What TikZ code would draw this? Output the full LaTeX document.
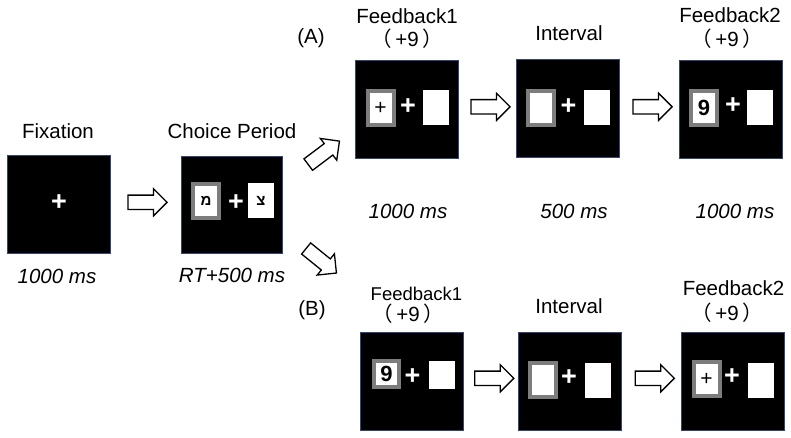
\documentclass[tikz,border=0pt]{standalone}
\usepackage{fontspec}
\setmainfont{Liberation Sans}
\newfontfamily\hebfont[Script=Hebrew]{Liberation Sans}
\newfontfamily\cjk{Noto Sans CJK SC}
\usetikzlibrary{shapes.arrows,calc}
\TeXXeTstate=1
\definecolor{scrborder}{RGB}{50,70,120}
\definecolor{boxgray}{RGB}{125,125,125}
\tikzset{
  screen/.style={draw=scrborder, line width=0.8pt, fill=black, minimum width=103pt, minimum height=98pt, inner sep=0pt, outer sep=0pt},
  graybox/.style={draw=boxgray, line width=4pt, fill=white, minimum width=26pt, minimum height=34pt, inner sep=0pt},
  whitebox/.style={fill=white, minimum width=26pt, minimum height=35pt, inner sep=0pt},
  bigplus/.style={text=white, font=\fontsize{27}{27}\selectfont\bfseries, inner sep=0pt},
  smallplus/.style={text=black, font=\fontsize{21}{21}\selectfont, inner sep=0pt},
  nine/.style={text=black, font=\fontsize{22}{22}\selectfont\bfseries, inner sep=0pt},
  heb/.style={text=black, font=\fontsize{15}{15}\selectfont\bfseries\hebfont, inner sep=0pt},
  lbl/.style={font=\fontsize{20.5}{24}\selectfont, anchor=base, inner sep=0pt},
  timing/.style={font=\fontsize{20.5}{24}\selectfont\itshape, anchor=base, inner sep=0pt},
  blockarrow/.style={single arrow, draw=black, fill=white, line width=1.3pt, minimum height=39pt, inner sep=6.5pt, single arrow head extend=6.5pt}
}
\newcommand{\plusnine}{{\cjk （}\,+9\,{\cjk ）}}
\begin{document}
\begin{tikzpicture}[x=1pt,y=-1pt]
\useasboundingbox[fill=white] (0,0) rectangle (791,437);

% screens
\node[screen] (fix) at (58.5,204) {};
\node[screen, minimum width=101pt, minimum height=97pt] (choice) at (231.5,204.5) {};
\node[screen] (a1) at (406.5,109) {};
\node[screen] (a2) at (567.5,108.5) {};
\node[screen] (a3) at (730.5,109) {};
\node[screen] (b1) at (412,381) {};
\node[screen] (b2) at (569.5,381.5) {};
\node[screen] (b3) at (733,381) {};

% fixation content
\node[bigplus] (fixp) at (59,203) {+};

% choice content
\node[graybox] (cg) at (206,201) {};
\node[heb] (cgt) at (cg) {\beginR מ\endR};
\node[bigplus] (cp) at (236,203) {+};
\node[whitebox] (cw) at (261,200.5) {};
\node[heb] (cwt) at (cw) {\beginR צ\endR};

% A1
\node[graybox] (a1g) at (380.5,108) {};
\node[smallplus] (a1gt) at (a1g) {+};
\node[bigplus] (a1p) at (408,107) {+};
\node[whitebox] (a1w) at (435.5,107.5) {};

% A2
\node[graybox] (a2g) at (541,107.5) {};
\node[bigplus] (a2p) at (568.5,107) {+};
\node[whitebox] (a2w) at (596.5,107.5) {};

% A3
\node[graybox] (a3g) at (704,107.5) {};
\node[nine] (a3gt) at (a3g) {9};
\node[bigplus] (a3p) at (733,106) {+};
\node[whitebox] (a3w) at (759.5,107.5) {};

% B1
\node[graybox, minimum width=25pt, minimum height=26pt] (b1g) at (386.5,374) {};
\node[nine] (b1gt) at (b1g) {9};
\node[bigplus] (b1p) at (412.5,377) {+};
\node[whitebox, minimum height=28pt] (b1w) at (441.5,375) {};

% B2
\node[graybox] (b2g) at (542.5,380) {};
\node[bigplus] (b2p) at (569,378) {+};
\node[whitebox] (b2w) at (598,380.5) {};

% B3
\node[graybox] (b3g) at (706.5,379) {};
\node[smallplus] (b3gt) at (b3g) {+};
\node[bigplus] (b3p) at (732,377) {+};
\node[whitebox] (b3w) at (761,380) {};

% labels
\node[lbl] (tfix) at (58,138) {Fixation};
\node[lbl] (tchoice) at (232,138) {Choice Period};
\node[timing] (dfix) at (57,283) {1000 ms};
\node[timing] (dchoice) at (232,282) {RT+500 ms};
\node[lbl] (tA) at (311,43) {(A)};
\node[lbl] (tB) at (312,315) {(B)};

\node[lbl] (ta1) at (407,23) {Feedback1};
\node[lbl] (ta1v) at (407,46) {\plusnine};
\node[lbl] (ta2) at (569,40) {Interval};
\node[lbl] (ta3) at (730,22) {Feedback2};
\node[lbl] (ta3v) at (727,46) {\plusnine};
\node[timing] (da1) at (408,218) {1000 ms};
\node[timing] (da2) at (574,218) {500 ms};
\node[timing] (da3) at (735,218) {1000 ms};

\node[lbl, font=\fontsize{18.5}{22}\selectfont] (tb1) at (416.5,300) {Feedback1};
\node[lbl] (tb1v) at (408,321) {\plusnine};
\node[lbl] (tb2) at (569,313) {Interval};
\node[lbl] (tb3) at (733.5,295) {Feedback2};
\node[lbl] (tb3v) at (727,320) {\plusnine};

% block arrows
\node[blockarrow] (ar1) at ($(fix.east)!0.5!(choice.west)+(-1.5,-2)$) {};
\node[blockarrow, rotate=37] (ar2) at (321,155) {};
\node[blockarrow, rotate=-39] (ar3) at (318.5,258.5) {};
\node[blockarrow] (ar4) at ($(a1.east)!0.5!(a2.west)+(0,-2)$) {};
\node[blockarrow] (ar5) at ($(a2.east)!0.5!(a3.west)+(0,-2)$) {};
\node[blockarrow] (ar6) at ($(b1.east)!0.5!(b2.west)+(0,-3)$) {};
\node[blockarrow] (ar7) at ($(b2.east)!0.5!(b3.west)+(0,-3)$) {};
\end{tikzpicture}
\end{document}
